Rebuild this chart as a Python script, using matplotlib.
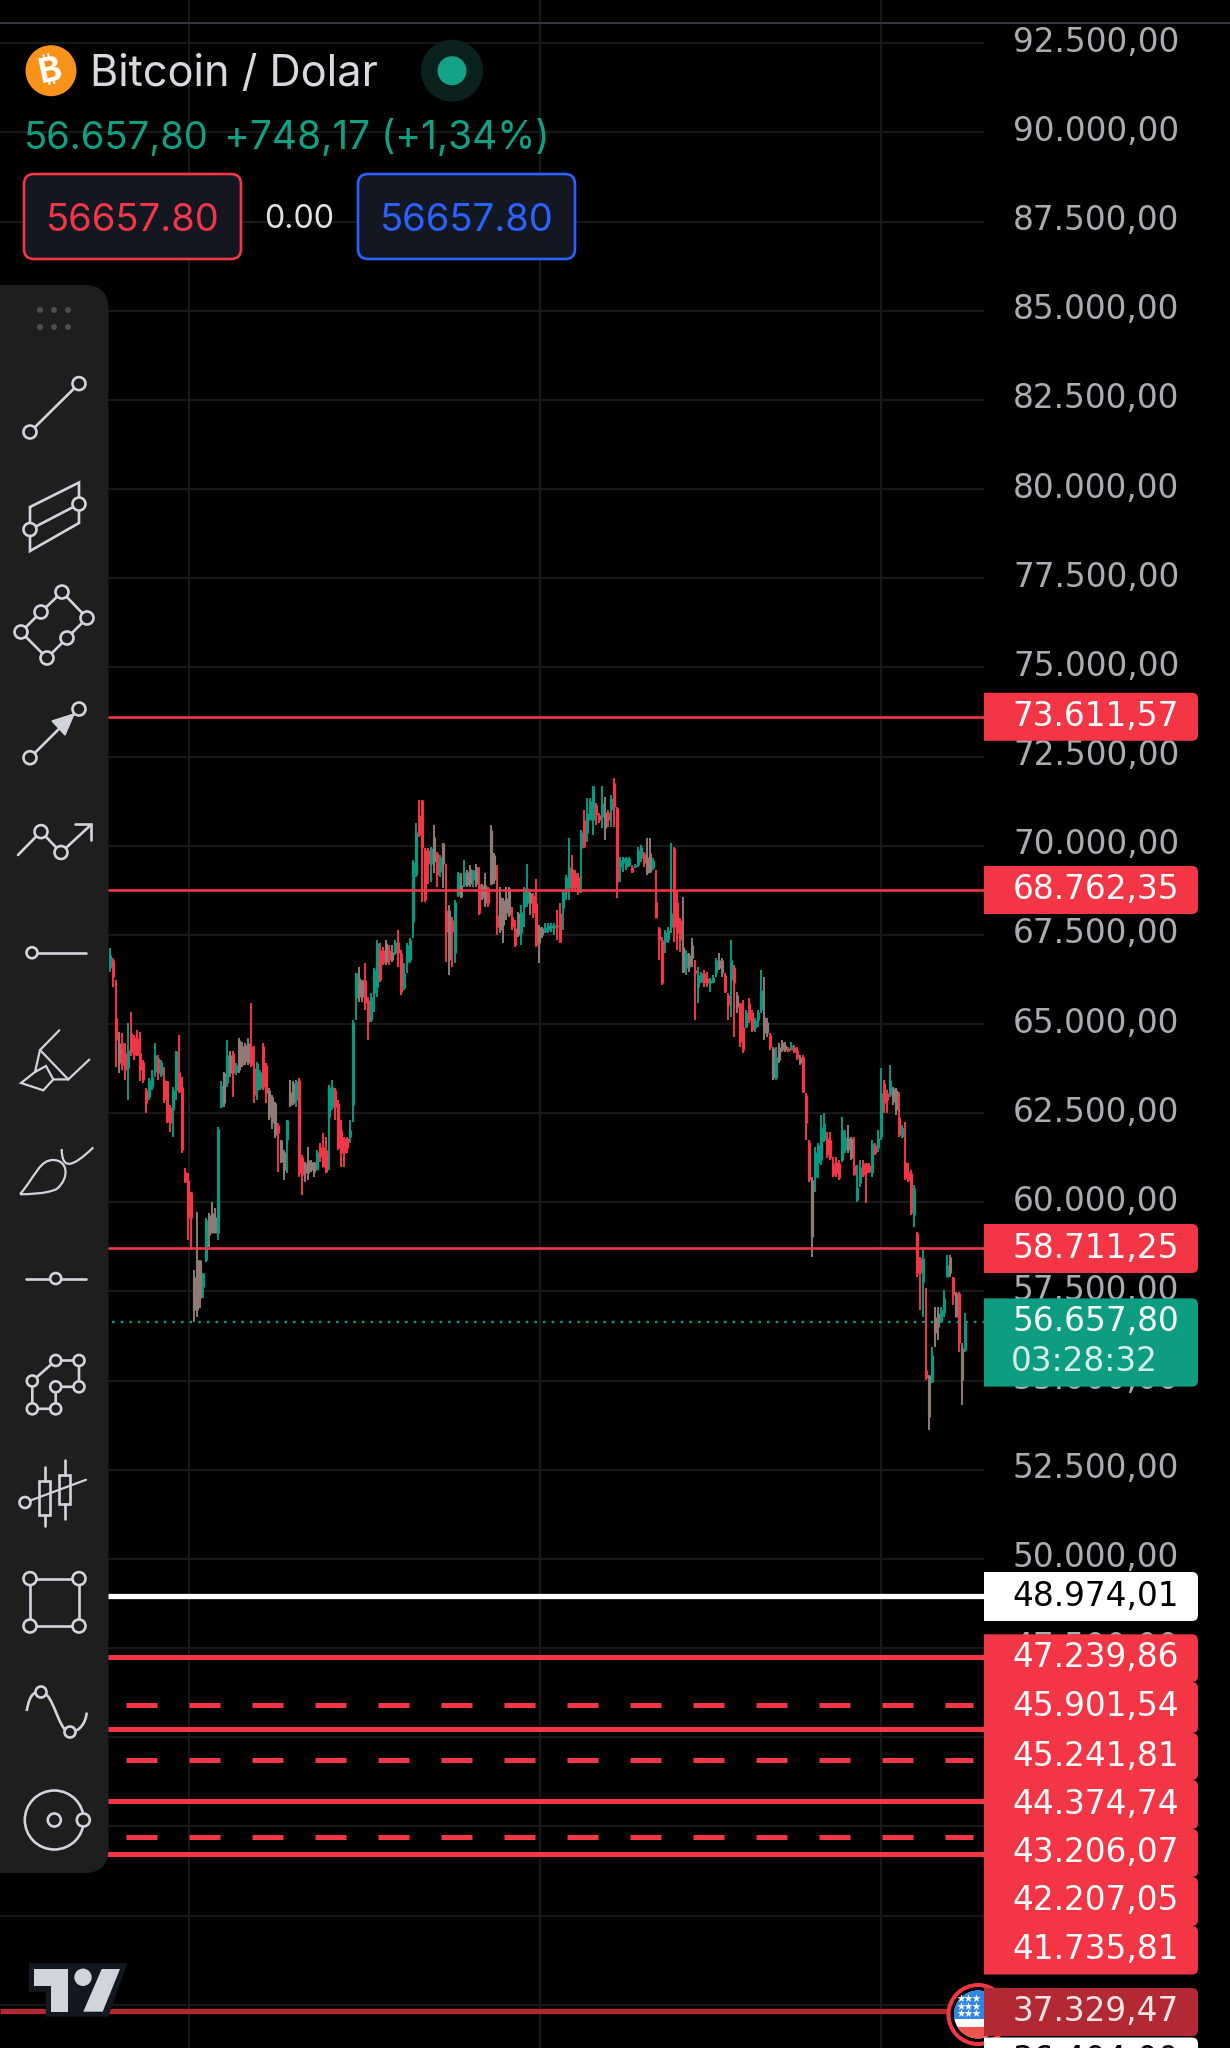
import matplotlib
matplotlib.use("Agg")
import matplotlib.pyplot as plt
from matplotlib.patches import Circle, Rectangle, Polygon, PathPatch, Ellipse
from matplotlib.path import Path

plt.rcParams['font.family'] = ['Inter', 'Noto Sans', 'DejaVu Sans']

# candles (high, low, body top, body bottom, tone)
highs_a = [67120,66840,66230,64790,64740,64460,65020,65350,64690,64830,64790,63990,63200,63480,63710,64460,64130,63990,63800,63390,
           62730,63240,64230,64690,63520,60970,60810,60300,58100,59740,58380,58010,59550,59690,60020,59830,62120,63390,63660,64550,
           64230,64230,63900,64600,64500,64460,64600,65580,64370,63940,63710,64460,63900,63200,63010,62820,62220,61750,61470,62310,
           63430,63390,63430,63480,61330,61140,61560,61190,61140,61470,61650,61940,61840,63290,63430,63200,62870,62310,61840,61840,
           62310,65110,66420]
lows_a = [66470,66050,63800,63620,63710,63430,62870,64090,63990,64090,63390,63340,62500,62870,63150,63520,63430,63520,62780,62220,
          61980,61840,62870,63060,61370,60530,58940,58660,56650,56790,57030,57310,58340,58760,59130,59130,58940,62640,62680,63240,
          63520,62960,63570,63620,63800,63850,63850,63800,62780,62870,63150,63150,62780,62310,62070,61790,60860,61090,60630,60810,
          62680,62730,62680,60720,60210,60580,60630,60860,60720,60910,61140,61000,60810,60910,62590,62310,61470,61000,61000,61370,
          61650,62260,65110]
tops_a = [66940,66800,65160,64460,64460,64180,64270,64740,64650,64600,64180,63940,63150,63430,63520,64130,64040,63940,63430,63390,
          62680,63150,64230,63660,63240,60860,60630,60300,57920,58380,58380,58010,59510,59650,59690,59600,62070,63290,63620,64130,
          64130,64180,63850,64550,64370,64410,64460,64370,63760,63900,63660,64370,63850,63150,62960,62780,62170,61750,61420,62310,
          63100,63340,63390,63430,61280,61090,61190,61140,61140,61420,61560,61560,61470,63240,63240,63150,62780,62030,61790,61790,
          62030,65070,66420]
bottoms_a = [66560,66330,64550,63900,63850,63710,63760,64180,64130,64130,63710,63430,62780,62960,63240,63660,63620,63570,62870,62260,
             62220,62590,63150,63100,61470,60580,59550,59550,56980,56980,57310,57640,58380,59080,59130,59130,59130,62680,62780,63340,
             63620,63620,63660,63710,63850,63940,63900,63850,63010,63150,63200,63240,63060,62400,62220,61890,61940,61140,60910,61750,
             62730,62780,62870,60810,60770,60810,60810,60910,60860,60910,61280,61000,60860,62400,62680,62680,61510,61370,61370,61510,
             61840,62730,65720]
tones_a = "grrbrrgrrr" "rrrgggrgrr" "rggrrrrrbb" "bggbbbggbg" "brgbbbbrrg" "grrbbbrbbg" "bbgrrbbbbg" "rrrggrrrrr" "ggg"

highs_b = [66610,66240,66720,65770,65860,66560,67360,67260,67170,67360,67220,67220,67360,67640,67080,66700,67260,67400,69600,70630,
           71280,71280,69930,69930,69970,70580,69830,69740,70080,69500,68340,68010,68480,69270,69230,69600,69320,69460,69320,69500,
           69410,68940,69230,68850,70580,69790,69460,68850,68520,68850,68850,68290,67920,68150,68340,68850,69500,68710,68660,69080,
           67780,67730,67820,67840,67840,67820,68200,68380,68760,69180,70210,69740,69320,69230,70440,71000,71330,71330]
lows_b = [65630,65630,65390,64550,65060,65350,65770,66190,66650,66650,66650,66750,66930,66610,65810,65950,66420,66700,67400,69130,
          70250,68430,68430,68940,68990,69230,68850,69130,68800,66750,66370,66610,66700,68570,68520,68850,68850,68850,68850,68850,
          68060,68480,68290,68290,68900,68940,67500,67540,67260,67920,68010,67640,67170,67450,67220,67730,68290,68060,67960,67170,
          66700,67400,67540,67540,67590,67500,67360,67260,67640,68480,68480,68760,68710,68620,68660,69930,70110,70720]
tops_b = [66280,66240,66240,65670,65770,66520,67260,67080,67080,67260,67080,67030,67310,67310,66980,66420,67220,67360,69550,70390,
          70860,71280,69880,69880,69930,70250,69790,69690,70070,68200,68200,67920,68430,69230,68900,69270,69270,69360,69320,69410,
          68940,68900,68900,68800,70440,69740,68060,68570,68480,68520,68800,68010,67680,68100,68150,68800,68800,68660,68620,68380,
          67730,67680,67730,67780,67780,67780,67780,68100,68710,69130,69410,69360,69230,69130,70390,70720,70910,71240]
bottoms_b = [65770,65770,65580,65060,65110,65860,66050,66240,66700,66750,66790,66790,66980,66980,65910,66000,66750,66790,67870,69180,
             70300,69930,68480,69500,69500,69550,69180,69270,69500,67590,66790,67590,66980,68620,68570,68900,68900,68940,69040,68940,
             68100,68520,68380,68380,68940,69040,67730,67640,67780,68100,68060,67730,67220,67500,67540,68290,68380,68380,68100,67220,
             67260,67500,67590,67640,67680,67680,67730,67310,68240,68710,68800,68800,68800,68710,69930,69970,70350,70720]
tones_b = "bbrrgggrrb" "rbgrrggggg" "rrrrgbrgbr" "brggbgbbgb" "rbbrbbrbbb" "brrbgggbrr" "bbggggrrgg" "grrrgrgg"

highs_c = [71660,71190,70910,71660,71375,71000,71420,71890,71095,69690,69690,69690,69690,69460,69500,69970,70020,69830,70210,70210,
           69645,69320,67730,67450,67640,67730,70070,69970,68760,67960,68570,67080,66980,67400,66800,66610,66470,66515,66470,66280,
           66375,66840,66980,66840,66420,65860,67360,66650,65910,65580,65670,65390,65720,65390,65160,65390,66515,66330,65160,64740,
           64365,64365,64460,64550,64505,64365,64505,64410,64365,64130,64130,63060,61750,60720]
lows_c = [70300,70580,70630,70490,70160,70530,70530,70530,68525,68990,69270,69320,69410,69225,69365,69410,69550,69410,69180,69225,
          69320,67960,66795,66095,66980,67260,67545,67310,67075,67030,66420,66375,66470,66610,65110,65580,66140,66050,66050,65905,
          66140,66330,66515,66330,65860,65110,65205,64645,65300,64365,64180,64880,65020,64785,64785,64925,65300,64550,64645,64270,
          63430,63430,63900,64225,64225,64225,64270,64180,63990,63850,63060,61750,60580,58475]
tops_c = [71660,71140,70860,71190,70955,70955,71330,71750,71050,69600,69645,69645,69645,69410,69460,69880,69970,69785,69690,69785,
          69600,68430,67680,67355,67590,67640,68100,69925,68430,67915,67170,66980,66935,67215,66515,66375,66420,66420,66280,66235,
          66330,66795,66795,66795,66375,65815,66795,66610,65815,65580,64925,65345,65580,65345,65110,65345,65955,65205,65065,64690,
          64320,64085,64365,64505,64410,64320,64410,64365,64270,64085,64085,63010,61700,60625]
bottoms_c = [70720,70860,70720,70815,70490,70720,71000,71095,68990,69415,69505,69415,69460,69270,69415,69460,69645,69505,69225,69270,
             69365,67965,67355,66140,67310,67355,67730,67730,67545,67355,66470,66560,66610,66840,66420,66050,66190,66140,66140,66140,
             66190,66420,66560,66420,65905,65535,66235,66140,65490,64505,64270,64925,65110,64830,64880,65110,65390,64740,64740,64365,
             63480,63480,63990,64270,64270,64250,64270,64225,64040,63900,63100,62215,60625,59040]
tones_c = "grrgbrgrrg" "gggrgggrbb" "grrrgggrrr" "bgbbrggrrg" "ggbbrrgrbr" "rgrrgggbbr" "bgbbbrgrrb" "rrrb"

highs_d = [61560,61650,62450,62495,61980,61980,61280,61280,61185,62400,62030,62170,61840,61840,61045,61185,61185,61090,61090,61750,
           61650,62030,63760,63430,63150,63850,63240,63195,63100,62170,62260,61090,60905,60485,59175,58475,58755,57590,55160,55950,
           57075,57075,57075,57540,58520,58520,57915,57495,57495,56045,56885]
lows_d = [60300,60670,61045,61700,61230,61185,60720,60720,60625,61140,61370,61370,61185,60765,60020,60440,60720,59970,60810,60720,
          61325,61420,61750,62495,62495,62960,62730,62450,61840,61795,60625,60580,59645,59320,57915,56980,56795,55020,53615,54925,
          55950,56140,56605,56795,57915,57915,57120,56795,55810,54315,55810]
tops_d = [61420,61605,62120,62215,61795,61750,61090,61140,61090,62030,61840,61795,61795,61045,60440,61000,61090,61090,61045,61655,
          61610,61795,63055,63335,63055,63430,63195,63150,62400,62120,61140,60860,60810,60390,59130,58430,58430,55300,55160,55720,
          56795,56885,56980,57310,58240,58475,57915,57450,57450,55905,56650]
bottoms_d = [60720,61090,61185,61750,61325,61235,60765,60810,60670,61185,61467,61467,61235,60765,60065,60530,60765,60810,60860,60810,
             61370,61515,61840,62775,62870,63010,62820,62590,61890,61840,60670,60625,59690,59645,58010,58010,57775,55065,53990,54970,
             56325,56515,56650,56885,57915,58010,57400,56795,56045,55020,55860]
tones_d = "ggggrrrrrg" "gbbrggrrrg" "rggrrgbbrg" "rrrgrrgrbg" "bbgggbrbrb" "g"

highs = highs_a + highs_b + highs_c + highs_d
lows = lows_a + lows_b + lows_c + lows_d
tops = tops_a + tops_b + tops_c + tops_d
bottoms = bottoms_a + bottoms_b + bottoms_c + bottoms_d
tones = tones_a + tones_b + tones_c + tones_d

price_ticks = [92500, 90000, 87500, 85000, 82500, 80000, 77500, 75000, 72500, 70000, 67500, 65000, 62500,
               60000, 57500, 55000, 52500, 50000, 47500, 45000, 42500, 40000, 37500]
thin_levels = [73611.57, 68762.35, 58711.25]
solid_levels = [47239.86, 45241.81, 43206.07, 41735.81]
dashed_levels = [45901.54, 44374.74, 42207.05]
white_level = 48974.01
news_level = 37329.47
last_price = 56657.80
next_label = 36404.00
change_text = "+748,17 (+1,34%)"
countdown = "03:28:32"

RED = "#f23645"
GREEN = "#089981"
BLEND = "#8f7a76"
ICON = "#d1d4dc"
GRID = "#181818"
PANE_END = 984 / 1230
LABEL_SIZE = 23.6
LABEL_FONT = "DejaVu Sans"


def fmt(v):
    s = f"{v:,.2f}"
    return s.replace(",", "#").replace(".", ",").replace("#", ".")


def box_right_round(ax, x0, x1, y0, y1, color, z, r=6):
    verts = [(x0, y0), (x1 - r, y0), (x1, y0), (x1, y0 + r), (x1, y1 - r), (x1, y1), (x1 - r, y1), (x0, y1), (x0, y0)]
    codes = [Path.MOVETO, Path.LINETO, Path.CURVE3, Path.CURVE3, Path.LINETO, Path.CURVE3, Path.CURVE3, Path.LINETO, Path.CLOSEPOLY]
    ax.add_patch(PathPatch(Path(verts, codes), fc=color, ec="none", zorder=z))


def round_box(ax, x0, x1, y0, y1, r, fc, ec=None, lw=0, z=3):
    k = [(x0 + r, y0), (x1 - r, y0), (x1, y0), (x1, y0 + r), (x1, y1 - r), (x1, y1), (x1 - r, y1),
         (x0 + r, y1), (x0, y1), (x0, y1 - r), (x0, y0 + r), (x0, y0), (x0 + r, y0), (x0 + r, y0)]
    c = [Path.MOVETO, Path.LINETO, Path.CURVE3, Path.CURVE3, Path.LINETO, Path.CURVE3, Path.CURVE3,
         Path.LINETO, Path.CURVE3, Path.CURVE3, Path.LINETO, Path.CURVE3, Path.CURVE3, Path.CLOSEPOLY]
    ax.add_patch(PathPatch(Path(k, c), fc=fc, ec=ec if ec else "none", lw=lw, zorder=z))


def node(ax, x, y, r=6.5):
    ax.add_patch(Circle((x, y), r, fc="#1e1e1e", ec=ICON, lw=1.9, zorder=8))


def poly(ax, pts, closed=False, lw=1.9):
    xs = [p[0] for p in pts]
    ys = [p[1] for p in pts]
    if closed:
        xs.append(xs[0])
        ys.append(ys[0])
    ax.plot(xs, ys, color=ICON, lw=lw, zorder=7, solid_capstyle="round", solid_joinstyle="miter")


fig = plt.figure(figsize=(12.3, 20.48), dpi=100, facecolor="black")
ax = fig.add_axes([0, 0, 1, 1], facecolor="black")
ax.set_axis_off()

# linear price scale, 28.04 dollars per pixel, pane shows 36288..93713
n = len(highs)
step = (965 - 109.7) / (n - 1)
ax.set_xlim(-109.7 / step, (1230 - 109.7) / step)
ax.set_ylim(36288, 93713)
trans = ax.get_yaxis_transform()

ax.hlines(price_ticks, 0, PANE_END, transform=trans, color=GRID, lw=1.5, zorder=1)
for px in [188.5, 540, 881.5]:
    ax.axvline((px - 109.7) / step, color=GRID, lw=1.5, zorder=1)

for p in price_ticks:
    ax.annotate(fmt(p), xy=(1096 / 1230, p), xycoords=trans, xytext=(0, -8.5 * 0.72),
                textcoords="offset points", ha="center", va="baseline", fontsize=LABEL_SIZE, family=LABEL_FONT,
                color="#a9acb2", zorder=2)

colors = {"g": GREEN, "r": RED, "b": BLEND}
bar_colors = [colors[t] for t in tones]
bar_x = list(range(n))
ax.vlines(bar_x, lows, highs, colors=bar_colors, lw=1.4, zorder=3)
ax.vlines(bar_x, bottoms, tops, colors=bar_colors, lw=2.3, zorder=3)

ax.hlines(thin_levels, 0, PANE_END, transform=trans, color=RED, lw=1.9, zorder=4)
ax.hlines(solid_levels, 0, PANE_END, transform=trans, color=RED, lw=3.6, zorder=4)
ax.hlines(white_level, 0, PANE_END, transform=trans, color="white", lw=3.8, zorder=4)
ax.hlines(news_level, 0, 950 / 1230, transform=trans, color="#b22833", lw=3.8, zorder=4)
for lev in dashed_levels:
    ax.plot([0, 973 / 1230], [lev, lev], transform=trans, color=RED, lw=3.6, ls=(0, (6.2, 6.4)), zorder=4)
ax.plot([0, PANE_END], [last_price, last_price], transform=trans, color=GREEN, lw=1.7, ls=(0, (1.1, 2.55)), zorder=4)

# interface layer in pixel coordinates
ui = fig.add_axes([0, 0, 1, 1], facecolor="none")
ui.set_xlim(0, 1230)
ui.set_ylim(2048, 0)
ui.set_axis_off()

ui.plot([0, 1230], [22.7, 22.7], color="#3c3c46", lw=1.3, zorder=2)

# header
ui.add_patch(Ellipse((51, 70.7), 51, 51, fc="#f7931a", ec="none", zorder=3))
ui.text(51, 83, "\u20bf", family=['Inter', 'Noto Sans', 'Roboto', 'Open Sans', 'Lato', 'DejaVu Sans'], fontsize=25, fontweight="bold",
        color="white", ha="center", va="baseline", rotation=12, zorder=4)
ui.text(90, 86, "Bitcoin / Dolar", fontsize=31.2, color="#d8dae0", va="baseline", zorder=4)
ui.add_patch(Circle((452, 70.7), 31, fc="#0a211d", ec="none", zorder=3))
ui.add_patch(Circle((452, 70.7), 14.5, fc="#12a286", ec="none", zorder=4))
ui.text(24, 149, fmt(last_price), fontsize=27.5, color="#12a082", va="baseline", zorder=4)
ui.text(224, 149, change_text, fontsize=28, color="#12a082", va="baseline", zorder=4)

round_box(ui, 24, 241, 174, 259, 10, "#131722", RED, 1.9)
round_box(ui, 358, 575, 174, 259, 10, "#131722", "#2962ff", 1.9)
ui.text(132.5, 231, f"{last_price:.2f}", fontsize=27.5, color=RED, ha="center", va="baseline", zorder=4)
ui.text(299, 228, "0.00", fontsize=23.2, color="#dfe1e6", ha="center", va="baseline", zorder=4)
ui.text(466.5, 231, f"{last_price:.2f}", fontsize=27.5, color="#2962ff", ha="center", va="baseline", zorder=4)

# toolbar
round_box(ui, -30, 108.5, 285, 1873, 24, "#1e1e1e", z=6)
for dy in [310, 327]:
    for dx in [40, 54, 68]:
        ui.add_patch(Circle((dx, dy), 3, fc="#4d4d4f", ec="none", zorder=7))

poly(ui, [(30, 432), (79, 383.6)])
node(ui, 30, 432)
node(ui, 79, 383.6)

poly(ui, [(30, 507), (79, 482.5), (79, 523), (30, 551)], closed=True)
poly(ui, [(30, 529.5), (79, 504)])
node(ui, 30, 529.5)
node(ui, 79, 504)

diamond = [(21, 632), (41, 612), (62, 592), (87, 618), (67, 638), (47, 658)]
poly(ui, diamond, closed=True)
for d in diamond:
    node(ui, d[0], d[1])

poly(ui, [(30, 757.7), (79, 709)])
ui.add_patch(Polygon([(52, 721), (65, 735), (74, 714)], fc=ICON, ec=ICON, zorder=7))
node(ui, 30, 757.7)
node(ui, 79, 709)

poly(ui, [(18, 855), (41, 831.6), (61, 852.5), (90, 825.7)])
poly(ui, [(75, 824), (91, 824), (91, 839.5)])
node(ui, 41, 831.6)
node(ui, 61, 852.5)

poly(ui, [(32, 952.7), (86, 952.7)])
node(ui, 32, 952.7, 5.5)

poly(ui, [(59.3, 1030.3), (40, 1050), (68.3, 1079.4), (89.3, 1059.6)], lw=1.6)
poly(ui, [(40, 1050), (35, 1072), (21, 1083), (43.3, 1090.3), (53.3, 1079.4), (68.3, 1079.4)], lw=1.6)
poly(ui, [(35, 1072), (46, 1066), (53.3, 1079.4)], lw=1.6)

drop = Path([(20, 1194.3), (36, 1175), (40, 1160), (53, 1160), (68, 1160), (70, 1178), (56.7, 1189), (46, 1194), (30, 1194), (20, 1194.3)],
            [Path.MOVETO, Path.CURVE4, Path.CURVE4, Path.CURVE4, Path.CURVE4, Path.CURVE4, Path.CURVE4, Path.CURVE4, Path.CURVE4, Path.CURVE4])
ui.add_patch(PathPatch(drop, fc="none", ec=ICON, lw=1.6, zorder=7))
tail = Path([(61.7, 1149), (62, 1170), (72, 1168), (93.3, 1147.4)], [Path.MOVETO, Path.CURVE4, Path.CURVE4, Path.CURVE4])
ui.add_patch(PathPatch(tail, fc="none", ec=ICON, lw=1.6, zorder=7))

poly(ui, [(26, 1278.5), (86, 1278.5)])
node(ui, 55.7, 1278.5, 5.5)

chain = [(32.3, 1381), (55.7, 1360.5), (79, 1360.5), (79, 1386.8), (55.7, 1386.8), (55.7, 1408.8), (32.3, 1408.8)]
poly(ui, chain, closed=True)
for c in chain:
    node(ui, c[0], c[1], 5.5)

poly(ui, [(25, 1502.5), (86, 1479.8)], lw=1.6)
for cx, w0, w1, b0, b1 in [(44.5, 1467, 1526, 1480.5, 1515), (64.5, 1460, 1518.6, 1474.7, 1504)]:
    poly(ui, [(cx, w0), (cx, b0)], lw=1.9)
    poly(ui, [(cx, b1), (cx, w1)], lw=1.9)
    ui.add_patch(Rectangle((cx - 5.5, b0), 11, b1 - b0, fc="none", ec=ICON, lw=1.9, zorder=7))
node(ui, 25, 1502.5, 5.5)

rect_pts = [(30, 1578.6), (79, 1578.6), (79, 1626), (30, 1626)]
poly(ui, rect_pts, closed=True)
for r in rect_pts:
    node(ui, r[0], r[1])

wave = Path([(26.7, 1711), (30, 1692), (35, 1692), (41, 1692), (54, 1692), (58, 1732), (70, 1732), (80, 1732), (86, 1722), (86.7, 1712.6)],
            [Path.MOVETO, Path.CURVE4, Path.CURVE4, Path.CURVE4, Path.CURVE4, Path.CURVE4, Path.CURVE4, Path.CURVE4, Path.CURVE4, Path.CURVE4])
ui.add_patch(PathPatch(wave, fc="none", ec=ICON, lw=1.9, zorder=7))
node(ui, 41, 1692, 5.5)
node(ui, 70, 1732, 5.5)

ui.add_patch(Circle((54.3, 1820), 29.5, fc="none", ec=ICON, lw=1.9, zorder=7))
node(ui, 54.3, 1820)
node(ui, 83.3, 1820)

# TV logo
ui.add_patch(Polygon([(29, 1963.3), (127.3, 1963.3), (108.3, 2016.7), (45.7, 2016.7), (45.7, 1991.7), (29, 1991.7)], fc="#131722", ec="none", zorder=6))
ui.add_patch(Polygon([(34.3, 1969), (68.3, 1969), (68.3, 2011.7), (50.7, 2011.7), (50.7, 1986), (34.3, 1986)], fc=ICON, ec="none", zorder=7))
ui.add_patch(Circle((83, 1977.3), 8.7, fc=ICON, ec="none", zorder=7))
ui.add_patch(Polygon([(101.7, 1969), (120, 1969), (102.7, 2011.7), (83.3, 2011.7)], fc=ICON, ec="none", zorder=7))

# news flag
ui.add_patch(Circle((978, 2014.5), 29.5, fc="black", ec=RED, lw=2.9, zorder=5))
disc = Circle((978, 2014.5), 24, fc="white", ec="none", zorder=5)
ui.add_patch(disc)
top_band = Rectangle((950, 1988), 60, 31, fc="#2f86e6", ec="none", zorder=5)
low_band = Rectangle((950, 2027), 60, 14, fc="#ef5350", ec="none", zorder=5)
ui.add_patch(top_band)
ui.add_patch(low_band)
top_band.set_clip_path(disc)
low_band.set_clip_path(disc)
for sy in [1998, 2005.7, 2013]:
    ui.scatter([961, 968, 976], [sy] * 3, marker="*", s=38, color="white", linewidths=0, zorder=5.5)

# price labels, stacked as the app lays them out
label_values = thin_levels + [white_level] + [47239.86, 45901.54, 45241.81, 44374.74, 43206.07, 42207.05, 41735.81] + [news_level]
label_spans = [(692.8, 740.8), (866, 914), (1224, 1273), (1572, 1621), (1634.3, 1682), (1682, 1733), (1733, 1780),
               (1780, 1829), (1829, 1877), (1877, 1926), (1926, 1974.5), (1988, 2036)]
label_fills = [RED, RED, RED, "white", RED, RED, RED, RED, RED, RED, RED, "#b22833"]
label_inks = ["#fbfbfb", "#fbfbfb", "#fbfbfb", "black", "#fbfbfb", "#fbfbfb", "#fbfbfb", "#fbfbfb", "#fbfbfb", "#fbfbfb", "#fbfbfb", "#f4e4e6"]

for v, sp, fill, ink in zip(label_values, label_spans, label_fills, label_inks):
    box_right_round(ui, 984, 1198, sp[0], sp[1], fill, 9)
    ui.text(1096, (sp[0] + sp[1]) / 2 + 9, fmt(v), fontsize=LABEL_SIZE, family=LABEL_FONT, color=ink, ha="center", va="baseline", zorder=10)

box_right_round(ui, 984, 1198, 1298.4, 1386.6, "#0f9d82", 9)
ui.text(1096, 1331, fmt(last_price), fontsize=LABEL_SIZE, family=LABEL_FONT, color="#f4faf8", ha="center", va="baseline", zorder=10)
ui.text(1084, 1371, countdown, fontsize=LABEL_SIZE, family=LABEL_FONT, color="#d3eee8", ha="center", va="baseline", zorder=10)

box_right_round(ui, 984, 1198, 2037.5, 2070, "white", 9)
ui.text(1096, 2070, fmt(next_label), fontsize=LABEL_SIZE, family=LABEL_FONT, color="black", ha="center", va="baseline", zorder=10, clip_on=True)

fig.savefig("out.png", dpi=100, facecolor="black")
